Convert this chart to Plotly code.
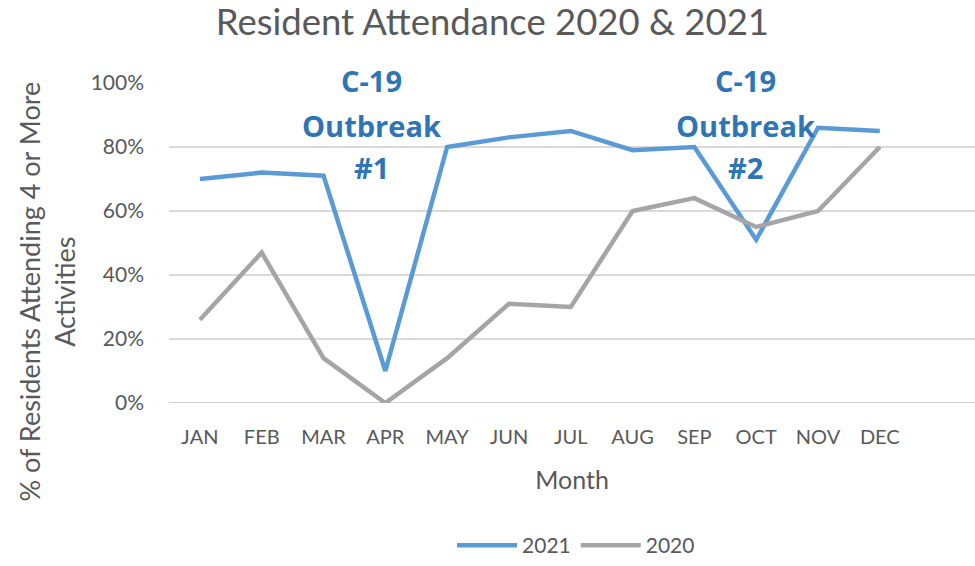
import plotly.graph_objects as go

months = ["JAN", "FEB", "MAR", "APR", "MAY", "JUN", "JUL", "AUG", "SEP", "OCT", "NOV", "DEC"]
attendance_2021 = [70, 72, 71, 10, 80, 83, 85, 79, 80, 51, 86, 85]
attendance_2020 = [26, 47, 14, 0, 14, 31, 30, 60, 64, 55, 60, 80]
y_ticks = [0, 20, 40, 60, 80, 100]
y_tick_labels = ["0%", "20%", "40%", "60%", "80%", "100%"]

BLUE = "#5B9BD5"
GRAY = "#A5A5A5"
TEXT = "#595959"
NOTE = "#2E75B6"

x_idx = list(range(len(months)))

fig = go.Figure()
fig.add_trace(go.Scatter(x=x_idx, y=attendance_2021, mode="lines", name="2021",
                         line=dict(color=BLUE, width=4.5), cliponaxis=False))
fig.add_trace(go.Scatter(x=x_idx, y=attendance_2020, mode="lines", name="2020",
                         line=dict(color=GRAY, width=4.5), cliponaxis=False))

# outbreak callouts, one line per annotation for wider line spacing
notes = [(2.78, ["C-19", "Outbreak", "#1"]), (8.82, ["C-19", "Outbreak", "#2"])]
line_y = [1.006, 0.866, 0.733]
for xpos, lines in notes:
    for yy, txt in zip(line_y, lines):
        fig.add_annotation(x=xpos, y=yy, xref="x", yref="paper", text="<b>" + txt + "</b>",
                           showarrow=False, font=dict(family="Open Sans", size=29, color=NOTE),
                           xanchor="center", yanchor="middle")

# y-axis title, placed as rotated text so it can sit below the plot centre
fig.add_annotation(x=-0.151, y=0.348, xref="paper", yref="paper", textangle=-90,
                   text="% of Residents Attending 4 or More<br>Activities", showarrow=False,
                   font=dict(family="Lato", size=27, color=TEXT),
                   xanchor="center", yanchor="middle")

fig.update_layout(
    width=975, height=566,
    margin=dict(l=169, r=0, t=82, b=162),
    paper_bgcolor="white", plot_bgcolor="white",
    title=dict(text="Resident Attendance 2020 & 2021", x=0.505, xanchor="center",
               y=1 - 22 / 566, yanchor="middle",
               font=dict(family="Lato", size=36.5, color=TEXT)),
    font=dict(family="Lato", color=TEXT),
    showlegend=True,
    legend=dict(orientation="h", x=0.505, xanchor="center", y=-0.445, yanchor="middle",
                font=dict(size=21, color=TEXT), itemwidth=60, traceorder="normal"),
    xaxis=dict(range=[-0.5, 12.54], tickmode="array", tickvals=x_idx, ticktext=months,
               showgrid=False, zeroline=False, showline=False, ticklabelstandoff=20,
               automargin=False,
               tickfont=dict(size=20, color=TEXT),
               title=dict(text="Month", font=dict(size=25, color=TEXT), standoff=24)),
    yaxis=dict(range=[0, 100.3], tickmode="array", tickvals=y_ticks, ticktext=y_tick_labels,
               showgrid=True, gridcolor="#D9D9D9", gridwidth=1.5, zeroline=False,
               showline=False, ticks="", ticklabelstandoff=24, automargin=False,
               tickfont=dict(size=21, color=TEXT)),
)
fig.add_hline(y=0, line=dict(color="#D0D0D0", width=2), layer="below")

fig.write_html("out.html")
